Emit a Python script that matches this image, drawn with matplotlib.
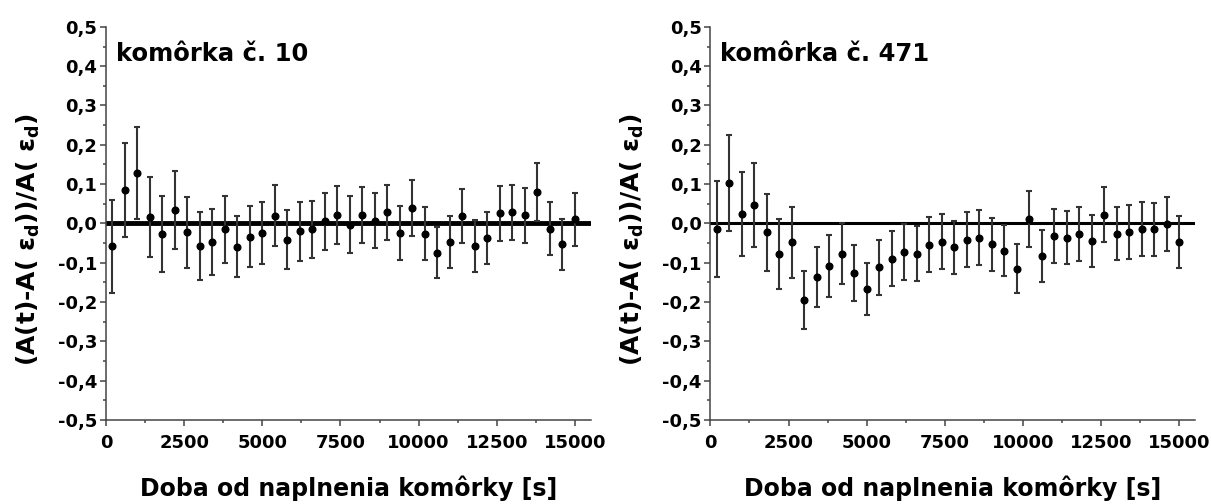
import matplotlib
matplotlib.use("Agg")
import matplotlib.pyplot as plt
from matplotlib.ticker import FuncFormatter, MultipleLocator

plt.rcParams['font.family'] = ['DejaVu Sans']
plt.rcParams['font.weight'] = 'bold'
plt.rcParams['mathtext.fontset'] = 'dejavusans'
plt.rcParams['mathtext.default'] = 'regular'

# cas od naplnenia [s] - rovnaky pre obe komorky
doba = [200 + 400 * i for i in range(38)]

# komorka c. 10
hodnoty_10 = [-0.058, 0.085, 0.129, 0.017, -0.026, 0.034, -0.023, -0.058, -0.047, -0.015,
              -0.059, -0.034, -0.024, 0.020, -0.041, -0.020, -0.015, 0.005, 0.022, -0.003,
              0.021, 0.007, 0.028, -0.024, 0.040, -0.026, -0.074, -0.047, 0.019, -0.058,
              -0.036, 0.026, 0.029, 0.021, 0.080, -0.013, -0.053, 0.010]
chyby_10 = [0.118, 0.119, 0.117, 0.102, 0.097, 0.099, 0.091, 0.086, 0.084, 0.085,
            0.078, 0.078, 0.078, 0.078, 0.075, 0.075, 0.073, 0.073, 0.074, 0.072,
            0.072, 0.070, 0.071, 0.068, 0.071, 0.067, 0.065, 0.066, 0.069, 0.066,
            0.066, 0.070, 0.070, 0.070, 0.073, 0.067, 0.065, 0.068]

# komorka c. 471
hodnoty_471 = [-0.014, 0.102, 0.025, 0.046, -0.023, -0.078, -0.048, -0.195, -0.136, -0.108,
               -0.077, -0.126, -0.167, -0.111, -0.090, -0.072, -0.077, -0.054, -0.047, -0.061,
               -0.041, -0.036, -0.053, -0.069, -0.115, 0.011, -0.083, -0.032, -0.036, -0.027,
               -0.045, 0.022, -0.026, -0.022, -0.014, -0.015, -0.002, -0.047]
chyby_471 = [0.122, 0.122, 0.107, 0.107, 0.097, 0.090, 0.090, 0.074, 0.077, 0.078,
             0.078, 0.072, 0.067, 0.070, 0.070, 0.071, 0.070, 0.070, 0.070, 0.068,
             0.069, 0.069, 0.067, 0.065, 0.063, 0.071, 0.065, 0.068, 0.068, 0.068,
             0.067, 0.070, 0.068, 0.068, 0.068, 0.068, 0.069, 0.066]

panely = [("komôrka č. 10", hodnoty_10, chyby_10, 3.5),
          ("komôrka č. 471", hodnoty_471, chyby_471, 2.2)]


def ciarka(v, pos):
    # desatinna ciarka namiesto bodky
    s = "%.1f" % v
    if s == "-0.0":
        s = "0.0"
    return s.replace(".", ",")


fig = plt.figure(figsize=(12.11, 5.04), dpi=100)
lefts = [0.0875, 0.5866]

for left, (nazov, y, err, lw0) in zip(lefts, panely):
    ax = fig.add_axes([left, 0.1667, 0.4002, 0.780])
    ax.axhline(0, color='black', lw=lw0, zorder=1)
    ax.errorbar(doba, y, yerr=err, fmt='o', color='black', ecolor='#333333',
                elinewidth=1.5, capsize=2.2, capthick=1.5, markersize=4.8, zorder=3)
    ax.set_xlim(0, 15500)
    ax.set_ylim(-0.5, 0.5)
    ax.xaxis.set_major_locator(MultipleLocator(2500))
    ax.xaxis.set_minor_locator(MultipleLocator(1250))
    ax.yaxis.set_major_locator(MultipleLocator(0.1))
    ax.yaxis.set_minor_locator(MultipleLocator(0.05))
    ax.yaxis.set_major_formatter(FuncFormatter(ciarka))
    for s in ['top', 'right']:
        ax.spines[s].set_visible(False)
    for s in ['left', 'bottom']:
        ax.spines[s].set_linewidth(1.1)
        ax.spines[s].set_color('#444444')
    ax.tick_params(which='major', length=4.3, width=1.1, color='#444444',
                   labelsize=13)
    ax.tick_params(axis='y', which='major', pad=2)
    ax.tick_params(axis='x', which='major', pad=6)
    ax.tick_params(which='minor', length=2.4, width=1.1, color='#444444')
    ax.text(0.02, 0.93, nazov, transform=ax.transAxes, fontsize=17.5,
            fontweight='bold', va='center', ha='left')
    ax.set_xlabel("Doba od naplnenia komôrky [s]", fontsize=17, fontweight='bold')
    ax.xaxis.set_label_coords(0.5, -0.142)
    ax.set_ylabel("(A(t)-A( $ε_d$))/A( $ε_d$)", fontsize=18, fontweight='bold')
    ax.yaxis.set_label_coords(-0.132, 0.458)

plt.savefig('out.png', dpi=100)
